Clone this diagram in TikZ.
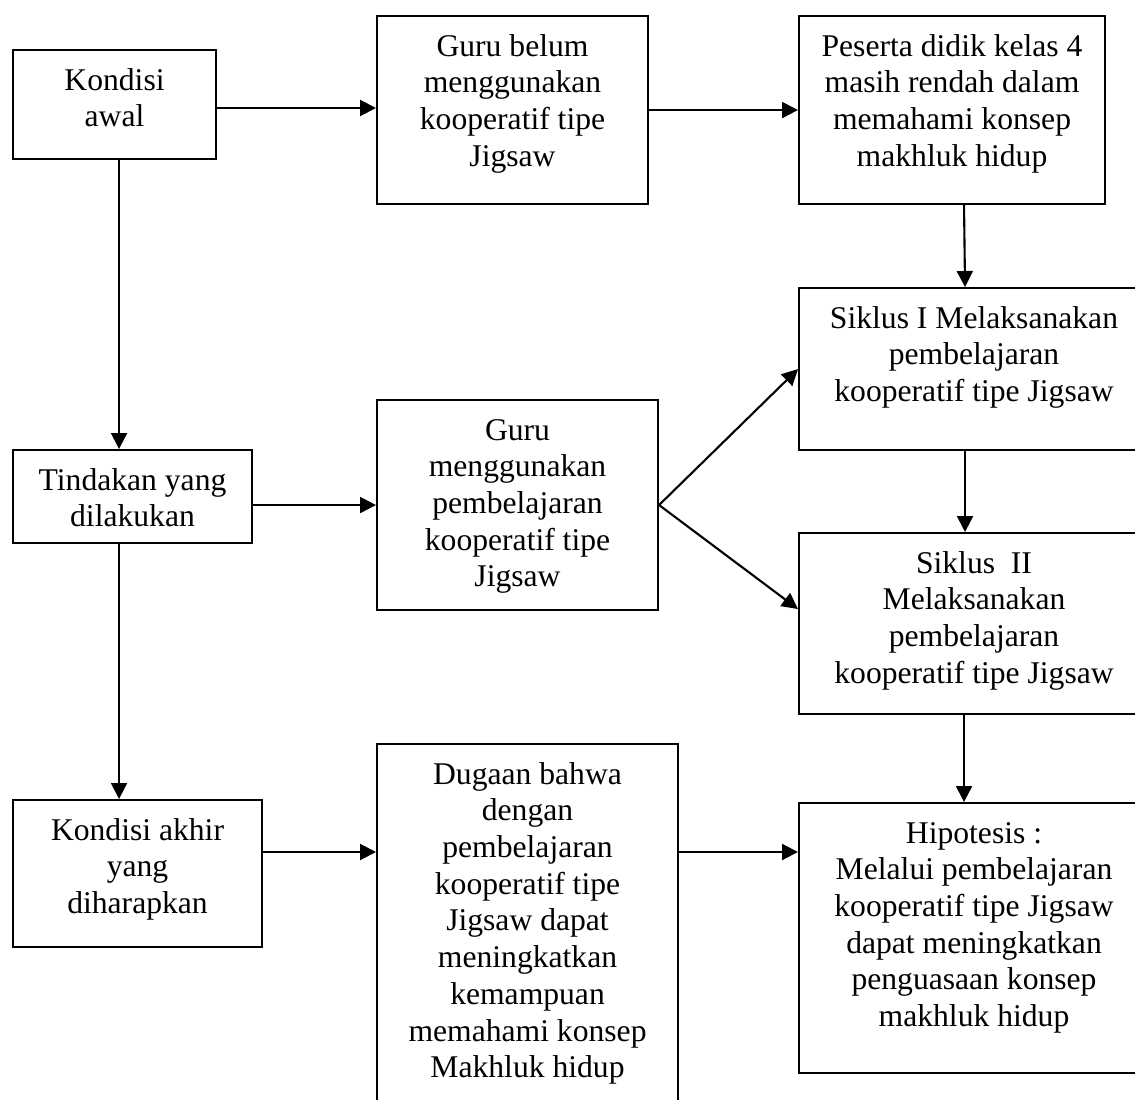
\documentclass[tikz,border=0pt]{standalone}
\usepackage{fontspec}
\setmainfont{Liberation Serif}
\usepackage{tikz}
\usetikzlibrary{arrows.meta}
\newcommand{\flowfont}{\fontsize{18}{20.9}\selectfont}
\newcommand{\BoxLines}[3]{%
    \parbox[c][#2][t]{#1}{\centering\rule{0pt}{0.8cm}#3}%
}
\tikzset{
    % Boxes
    flowBox/.style={draw=black, line width=1.2pt, inner sep=0pt, anchor=north west, font=\flowfont},
    % Arrows
    flowArrow/.style={-{Triangle[length=0.32cm, width=0.32cm]}, line width=1.2pt, draw=black}
}

\begin{document}
\begin{tikzpicture}[x=0.02cm, y=-0.02cm]
    \useasboundingbox (0,0) rectangle (1135,1099);
    \clip (0,0) rectangle (1135,1099);

    % Left column
    \node[flowBox] (awal) at (12,49) {\BoxLines{4.06cm}{2.18cm}{Kondisi\\ awal}};
    \node[flowBox] (tindakan) at (12,449) {\BoxLines{4.78cm}{1.86cm}{Tindakan yang\\ dilakukan}};
    \node[flowBox] (akhir) at (12,799) {\BoxLines{4.98cm}{2.94cm}{Kondisi akhir\\ yang\\ diharapkan}};

    % Middle column
    \node[flowBox] (belum) at (376,15) {\BoxLines{5.42cm}{3.76cm}{Guru belum\\ menggunakan\\ kooperatif tipe\\ Jigsaw}};
    \node[flowBox] (gurugun) at (376,399) {\BoxLines{5.62cm}{4.2cm}{Guru\\ menggunakan\\ pembelajaran\\ kooperatif tipe\\ Jigsaw}};
    \node[flowBox] (dugaan) at (376,743) {\BoxLines{6.02cm}{7.44cm}{Dugaan bahwa\\ dengan\\ pembelajaran\\ kooperatif tipe\\ Jigsaw dapat\\ meningkatkan\\ kemampuan\\ memahami konsep\\ Makhluk hidup}};

    % Right column
    \node[flowBox] (peserta) at (798,15) {\BoxLines{6.12cm}{3.76cm}{Peserta didik kelas 4\\ masih rendah dalam\\ memahami konsep\\ makhluk hidup}};
    \node[flowBox] (siklus1) at (798,287) {\BoxLines{7cm}{3.24cm}{Siklus I Melaksanakan\\ pembelajaran\\ kooperatif tipe Jigsaw}};
    \node[flowBox] (siklus2) at (798,532) {\BoxLines{7cm}{3.62cm}{Siklus\ \ II\\ Melaksanakan\\ pembelajaran\\ kooperatif tipe Jigsaw}};
    \node[flowBox] (hipotesis) at (798,802) {\BoxLines{7cm}{5.4cm}{Hipotesis :\\ Melalui pembelajaran\\ kooperatif tipe Jigsaw\\ dapat meningkatkan\\ penguasaan konsep\\ makhluk hidup}};

    % Arrow rows
    \coordinate (rowA) at (0,108);
    \coordinate (rowC) at (0,852);

    % Top row
    \draw[flowArrow] (awal.east |- rowA) -- (belum.west |- rowA);
    \draw[flowArrow] (belum.east) -- (peserta.west);
    \draw[flowArrow] ([xshift=0.24cm]peserta.south) -- ([xshift=-0.18cm]siklus1.north);

    % Left column down
    \draw[flowArrow] ([xshift=0.09cm]awal.south) -- ([xshift=0.09cm]awal.south |- tindakan.north);
    \draw[flowArrow] ([xshift=-0.27cm]tindakan.south) -- ([xshift=-0.27cm]tindakan.south |- akhir.north);

    % Middle row
    \draw[flowArrow] (gurugun.west -| tindakan.east) -- (gurugun.west);
    \draw[flowArrow] (gurugun.east) -- (siklus1.west);
    \draw[flowArrow] (gurugun.east) -- ([yshift=0.29cm]siklus2.west);
    \draw[flowArrow] ([xshift=-0.18cm]siklus1.south) -- ([xshift=-0.18cm]siklus1.south |- siklus2.north);

    % Bottom row
    \draw[flowArrow] (akhir.east |- rowC) -- (dugaan.west |- rowC);
    \draw[flowArrow] (dugaan.east |- rowC) -- (hipotesis.west |- rowC);
    \draw[flowArrow] ([xshift=-0.2cm]siklus2.south) -- ([xshift=-0.2cm]siklus2.south |- hipotesis.north);
\end{tikzpicture}
\end{document}
